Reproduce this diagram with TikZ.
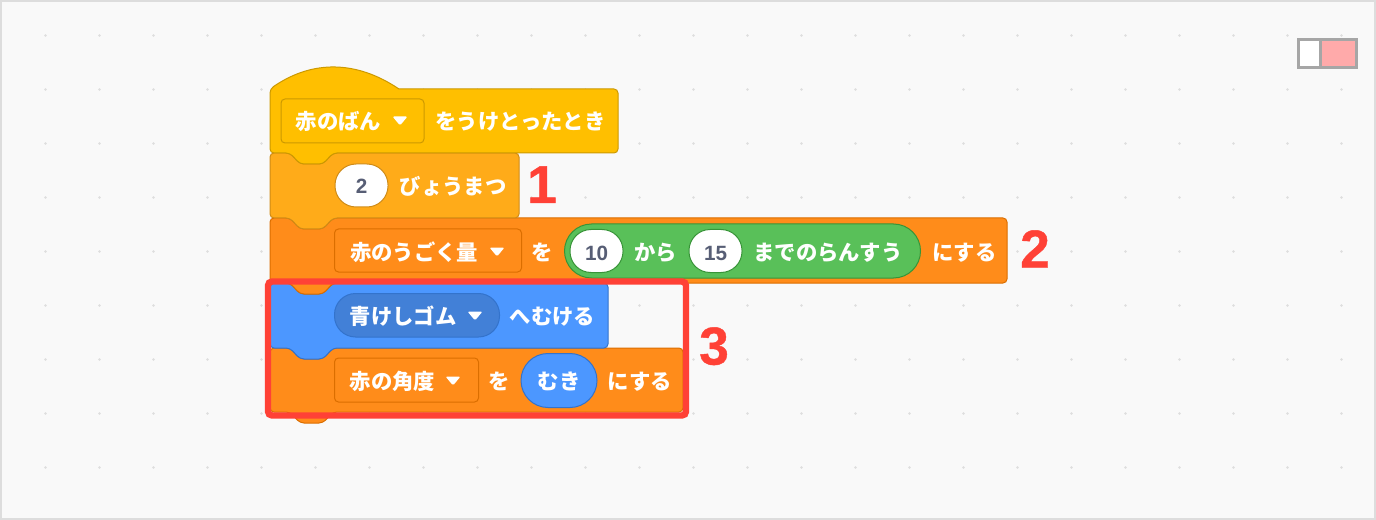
\documentclass[tikz,border=0pt]{standalone}
\usepackage{fontspec}
\newfontfamily\cjk{Noto Sans CJK JP}
\newfontfamily\numfont{Liberation Sans}
\newfontfamily\markfont[FakeBold=0.8]{Liberation Sans Bold}
\definecolor{bgc}{HTML}{F9F9F9}
\definecolor{framec}{HTML}{DDDDDD}
\definecolor{dotc}{HTML}{DEDEDE}
\definecolor{hatf}{HTML}{FFBF00}
\definecolor{hats}{HTML}{CC9900}
\definecolor{ctlf}{HTML}{FFAB19}
\definecolor{ctls}{HTML}{CF8B17}
\definecolor{varf}{HTML}{FF8C1A}
\definecolor{vars}{HTML}{DB6E00}
\definecolor{motf}{HTML}{4C97FF}
\definecolor{mots}{HTML}{3373CC}
\definecolor{motd}{HTML}{4280D7}
\definecolor{grnf}{HTML}{59C059}
\definecolor{grns}{HTML}{389438}
\definecolor{numc}{HTML}{575E75}
\definecolor{redc}{HTML}{FF4136}
\definecolor{togg}{HTML}{A6A6A6}
\definecolor{togp}{HTML}{FFAAAA}
\tikzset{
  blockpath/.style={line width=.75pt,rounded corners=3pt,line join=round},
  lab/.style={inner sep=0pt,text=white,font=\cjk\bfseries\fontsize{16pt}{16pt}\selectfont},
  numlab/.style={inner sep=0pt,text=numc,font=\numfont\bfseries\fontsize{15.5pt}{15.5pt}\selectfont},
  mark3/.style={inner sep=0pt,text=redc,font=\markfont\fontsize{40pt}{40pt}\selectfont},
  field/.style={draw,line width=.75pt,inner sep=0pt},
}
% left, top, right, bottom, fill, stroke
\newcommand\blockshape[6]{%
  \draw[blockpath,fill=#5,draw=#6] (#1,#2) -- (#1+20,#2) -- (#1+30,#2+11) -- (#1+53,#2+11) -- (#1+63,#2)
    -- (#3,#2) -- (#3,#4) -- (#1+63,#4) -- (#1+53,#4+11) -- (#1+30,#4+11) -- (#1+20,#4) -- (#1,#4) -- cycle;}
% name, x1, y1, x2, y2, radius, fill, stroke
\newcommand\fieldbox[8]{%
  \pgfmathsetmacro\fw{(#4-#2)*.75}\pgfmathsetmacro\fh{(#5-#3)*.75}\pgfmathsetmacro\fr{#6*.75}%
  \node[field,rounded corners=\fr pt,fill=#7,draw=#8,minimum width=\fw pt,minimum height=\fh pt] (#1) at ({(#2+#4)/2},{(#3+#5)/2}) {};}
\newcommand\lbl[4]{\node[lab,anchor=base] (#1) at (#2,#3+8.5) {#4};}
\newcommand\num[4]{\node[numlab,anchor=base] (#1) at (#2,#3+8) {#4};}
\newcommand\tri[2]{\fill[white,rounded corners=1pt] (#1-7.5,#2-4.5) -- (#1+7.5,#2-4.5) -- (#1,#2+4.5) -- cycle;}
\begin{document}
\begin{tikzpicture}[x=.75pt,y=-.75pt]
\useasboundingbox (0,0) rectangle (1376,520);
\fill[bgc] (0,0) rectangle (1376,520);
\draw[framec,line width=1.5pt] (1,1) rectangle (1375,519);
\foreach \i in {0,...,24} \foreach \j in {0,...,8}
  \fill[dotc] (45.5+54*\i,35.5+54*\j) circle (1.4);
% toggle
\fill[togg] (1297,38) rectangle (1358,69);
\fill[white] (1300,41) rectangle (1318.5,66);
\fill[togp] (1322,41) rectangle (1355,66);
% blocks, bottom to top so that each tab lies over the next block
\blockshape{270}{348}{683}{412}{varf}{vars}
\blockshape{270}{283}{608}{348}{motf}{mots}
\blockshape{270}{218}{1007}{283}{varf}{vars}
\blockshape{270}{153}{519}{218}{ctlf}{ctls}
\draw[blockpath,fill=hatf,draw=hats] (270,100) -- (270,89) {[sharp corners] .. controls (312,60) and (356,60) .. (399,89)}
  -- (618,89) -- (618,153) -- (333,153) -- (323,164) -- (300,164) -- (290,153) -- (270,153) -- cycle;
% hat
\fieldbox{d1}{281}{99}{424}{143}{4}{hatf}{hats}
\lbl{t1}{338.5}{121}{赤のばん}
\tri{400}{121}
\lbl{t2}{520.5}{121}{をうけとったとき}
% wait
\fieldbox{i2}{335}{164}{388}{207}{21}{white}{ctls}
\num{n2}{361.5}{186}{2}
\lbl{t3}{453}{186}{びょうまつ}
% set amount
\fieldbox{d2}{334.5}{229}{521.5}{272}{4}{varf}{vars}
\lbl{t4}{414}{252}{赤のうごく量}
\tri{497}{252}
\lbl{t5}{542.5}{252}{を}
\fieldbox{g1}{564.5}{224}{920.5}{278}{27}{grnf}{grns}
\fieldbox{i10}{570}{229.5}{623}{272.5}{21}{white}{grns}
\num{n10}{596.5}{252}{10}
\lbl{t6}{655.5}{252}{から}
\fieldbox{i15}{689}{229.5}{742}{272.5}{21}{white}{grns}
\num{n15}{715.5}{252}{15}
\lbl{t7}{828}{252}{までのらんすう}
\lbl{t8}{964.5}{252}{にする}
% point towards
\fieldbox{d3}{334.5}{293.5}{499.5}{337}{21}{motd}{mots}
\lbl{t9}{403}{316}{青けしゴム}
\tri{475}{316}
\lbl{t10}{552.5}{316}{へむける}
% set angle
\fieldbox{d4}{334.5}{358}{478.5}{402}{4}{varf}{vars}
\lbl{t11}{392.5}{381}{赤の角度}
\tri{453}{381}
\lbl{t12}{499.5}{381}{を}
\fieldbox{p1}{521}{353.5}{597}{407.5}{27}{motf}{mots}
\lbl{t13}{559}{381}{むき}
\lbl{t14}{640}{381}{にする}
% highlight and numbers
\draw[redc,line width=4.8pt,rounded corners=3pt] (268,281.5) rectangle (686,415.5);
\node[mark3,anchor=base] (m1) at (542,203) {1};
\node[mark3,anchor=base] (m2) at (1035,267.5) {2};
\node[mark3,anchor=base] (m3) at (714,364.5) {3};
\end{tikzpicture}
\end{document}
